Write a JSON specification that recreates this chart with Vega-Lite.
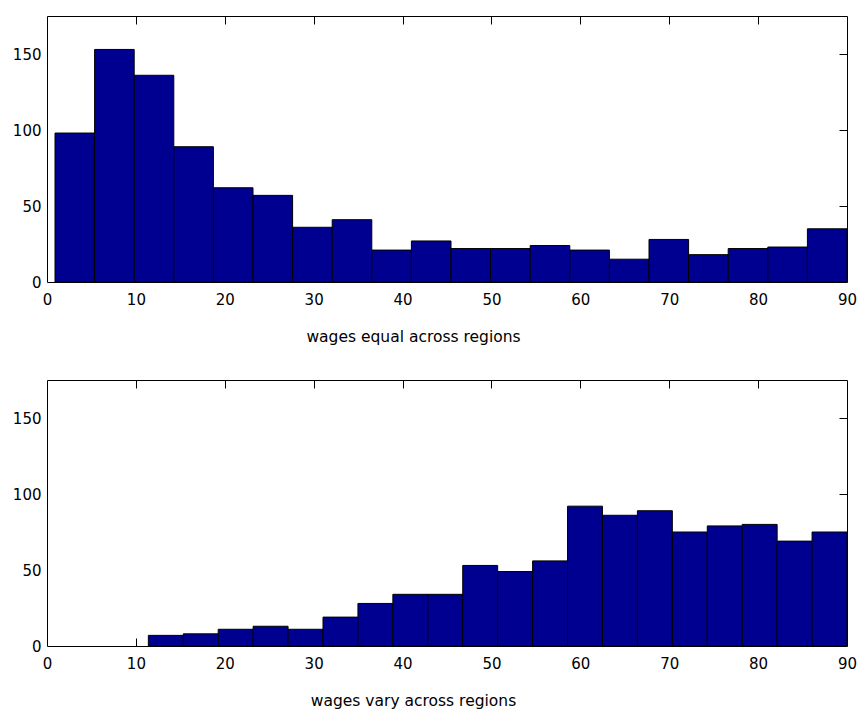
{
  "$schema": "https://vega.github.io/schema/vega-lite/v6.json",
  "background": "white",
  "padding": {"left": 11, "top": 15, "right": 5, "bottom": 0},
  "spacing": 34,
  "config": {
    "view": {"stroke": "#000000", "strokeWidth": 1},
    "font": "DejaVu Sans",
    "axis": {
      "grid": false,
      "domain": false,
      "tickColor": "#000000",
      "tickWidth": 1,
      "labelColor": "#000000",
      "labelFont": "DejaVu Sans",
      "labelFontSize": 15,
      "titleFont": "DejaVu Sans",
      "titleFontSize": 15.5,
      "titleFontWeight": "normal",
      "titleColor": "#000000"
    }
  },
  "datasets": {
    "equal": [
      {"start": 0.9, "end": 5.355, "count": 98},
      {"start": 5.355, "end": 9.81, "count": 153},
      {"start": 9.81, "end": 14.265, "count": 136},
      {"start": 14.265, "end": 18.72, "count": 89},
      {"start": 18.72, "end": 23.175, "count": 62},
      {"start": 23.175, "end": 27.63, "count": 57},
      {"start": 27.63, "end": 32.085, "count": 36},
      {"start": 32.085, "end": 36.54, "count": 41},
      {"start": 36.54, "end": 40.995, "count": 21},
      {"start": 40.995, "end": 45.45, "count": 27},
      {"start": 45.45, "end": 49.905, "count": 22},
      {"start": 49.905, "end": 54.36, "count": 22},
      {"start": 54.36, "end": 58.815, "count": 24},
      {"start": 58.815, "end": 63.27, "count": 21},
      {"start": 63.27, "end": 67.725, "count": 15},
      {"start": 67.725, "end": 72.18, "count": 28},
      {"start": 72.18, "end": 76.635, "count": 18},
      {"start": 76.635, "end": 81.09, "count": 22},
      {"start": 81.09, "end": 85.545, "count": 23},
      {"start": 85.545, "end": 90.0, "count": 35}
    ],
    "vary": [
      {"start": 11.4, "end": 15.33, "count": 7},
      {"start": 15.33, "end": 19.26, "count": 8},
      {"start": 19.26, "end": 23.19, "count": 11},
      {"start": 23.19, "end": 27.12, "count": 13},
      {"start": 27.12, "end": 31.05, "count": 11},
      {"start": 31.05, "end": 34.98, "count": 19},
      {"start": 34.98, "end": 38.91, "count": 28},
      {"start": 38.91, "end": 42.84, "count": 34},
      {"start": 42.84, "end": 46.77, "count": 34},
      {"start": 46.77, "end": 50.7, "count": 53},
      {"start": 50.7, "end": 54.63, "count": 49},
      {"start": 54.63, "end": 58.56, "count": 56},
      {"start": 58.56, "end": 62.49, "count": 92},
      {"start": 62.49, "end": 66.42, "count": 86},
      {"start": 66.42, "end": 70.35, "count": 89},
      {"start": 70.35, "end": 74.28, "count": 75},
      {"start": 74.28, "end": 78.21, "count": 79},
      {"start": 78.21, "end": 82.14, "count": 80},
      {"start": 82.14, "end": 86.07, "count": 69},
      {"start": 86.07, "end": 90.0, "count": 75}
    ]
  },
  "vconcat": [
    {
      "width": 800,
      "height": 266,
      "data": {"name": "equal"},
      "layer": [
        {
          "mark": {"type": "bar", "opacity": 0},
          "encoding": {
            "x": {"field": "start", "type": "quantitative",
              "axis": {"orient": "top", "values": [10, 20, 30, 40, 50, 60, 70, 80], "offset": -8, "tickSize": 8, "labels": false, "title": null}},
            "x2": {"field": "end"},
            "y": {"field": "count", "type": "quantitative",
              "axis": {"orient": "right", "values": [50, 100, 150], "offset": -8, "tickSize": 8, "labels": false, "title": null}},
            "y2": {"datum": 0}
          }
        },
        {
          "mark": {"type": "bar", "opacity": 0},
          "encoding": {
            "x": {"field": "start", "type": "quantitative",
              "axis": {"orient": "bottom", "values": [10, 20, 30, 40, 50, 60, 70, 80], "offset": -8, "tickSize": 8, "labels": false, "title": null}},
            "x2": {"field": "end"},
            "y": {"field": "count", "type": "quantitative", "axis": null},
            "y2": {"datum": 0}
          }
        },
        {
          "mark": {"type": "bar", "fill": "#000090", "stroke": "#000000", "strokeWidth": 1},
          "encoding": {
            "x": {"field": "start", "type": "quantitative", "scale": {"domain": [0, 90], "nice": false, "zero": false},
              "axis": {"orient": "bottom", "values": [0, 10, 20, 30, 40, 50, 60, 70, 80, 90], "ticks": false, "labelPadding": 10, "labelFlush": false, "title": "wages equal across regions", "titleX": 366, "titleY": 59, "titleBaseline": "alphabetic", "titleAlign": "center", "titleAnchor": null}},
            "x2": {"field": "end"},
            "y": {"field": "count", "type": "quantitative", "scale": {"domain": [0, 175], "nice": false},
              "axis": {"orient": "left", "values": [0, 50, 100, 150], "ticks": false, "labelPadding": 6, "title": null, "labelFlush": false}},
            "y2": {"datum": 0}
          }
        }
      ],
      "resolve": {"axis": {"x": "independent", "y": "independent"}}
    },
    {
      "width": 800,
      "height": 266,
      "data": {"name": "vary"},
      "layer": [
        {
          "mark": {"type": "bar", "opacity": 0},
          "encoding": {
            "x": {"field": "start", "type": "quantitative",
              "axis": {"orient": "top", "values": [10, 20, 30, 40, 50, 60, 70, 80], "offset": -8, "tickSize": 8, "labels": false, "title": null}},
            "x2": {"field": "end"},
            "y": {"field": "count", "type": "quantitative",
              "axis": {"orient": "right", "values": [50, 100, 150], "offset": -8, "tickSize": 8, "labels": false, "title": null}},
            "y2": {"datum": 0}
          }
        },
        {
          "mark": {"type": "bar", "opacity": 0},
          "encoding": {
            "x": {"field": "start", "type": "quantitative",
              "axis": {"orient": "bottom", "values": [10, 20, 30, 40, 50, 60, 70, 80], "offset": -8, "tickSize": 8, "labels": false, "title": null}},
            "x2": {"field": "end"},
            "y": {"field": "count", "type": "quantitative", "axis": null},
            "y2": {"datum": 0}
          }
        },
        {
          "mark": {"type": "bar", "fill": "#000090", "stroke": "#000000", "strokeWidth": 1},
          "encoding": {
            "x": {"field": "start", "type": "quantitative", "scale": {"domain": [0, 90], "nice": false, "zero": false},
              "axis": {"orient": "bottom", "values": [0, 10, 20, 30, 40, 50, 60, 70, 80, 90], "ticks": false, "labelPadding": 10, "labelFlush": false, "title": "wages vary across regions", "titleX": 366, "titleY": 59, "titleBaseline": "alphabetic", "titleAlign": "center", "titleAnchor": null}},
            "x2": {"field": "end"},
            "y": {"field": "count", "type": "quantitative", "scale": {"domain": [0, 175], "nice": false},
              "axis": {"orient": "left", "values": [0, 50, 100, 150], "ticks": false, "labelPadding": 6, "title": null, "labelFlush": false}},
            "y2": {"datum": 0}
          }
        }
      ],
      "resolve": {"axis": {"x": "independent", "y": "independent"}}
    }
  ]
}
